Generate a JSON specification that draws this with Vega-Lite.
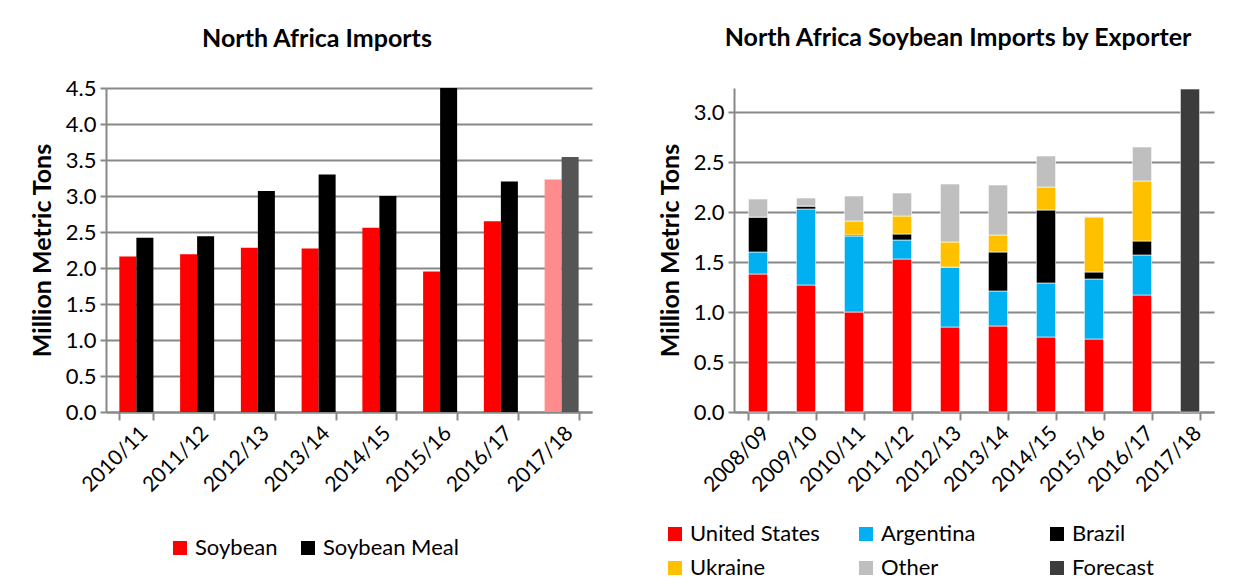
{
  "$schema": "https://vega.github.io/schema/vega-lite/v6.json",
  "background": "white",
  "padding": {"left": 30, "top": 26, "right": 10, "bottom": 5},
  "spacing": 66,
  "config": {
    "font": "Lato",
    "view": {"stroke": null},
    "title": {"font": "Lato", "fontSize": 25, "fontWeight": "bold", "color": "#000"},
    "axis": {
      "labelFont": "Lato", "labelColor": "#000", "titleFont": "Lato", "titleColor": "#000",
      "domainColor": "#888", "domainWidth": 2, "tickColor": "#888", "tickWidth": 2,
      "gridColor": "#888", "gridWidth": 2
    },
    "legend": {"labelFont": "Lato", "labelColor": "#000", "labelFontSize": 22, "symbolType": "square", "symbolSize": 196, "symbolStrokeWidth": 0}
  },
  "resolve": {"scale": {"color": "independent"}, "legend": {"color": "independent"}},
  "hconcat": [
    {
      "width": 486,
      "height": 324,
      "title": {"text": "North Africa Imports", "offset": 25, "dx": -32},
      "data": {"values": [
        {"year": "2010/11", "product": "Soybean", "value": 2.16},
        {"year": "2010/11", "product": "Soybean Meal", "value": 2.42},
        {"year": "2011/12", "product": "Soybean", "value": 2.19},
        {"year": "2011/12", "product": "Soybean Meal", "value": 2.44},
        {"year": "2012/13", "product": "Soybean", "value": 2.28},
        {"year": "2012/13", "product": "Soybean Meal", "value": 3.07},
        {"year": "2013/14", "product": "Soybean", "value": 2.27},
        {"year": "2013/14", "product": "Soybean Meal", "value": 3.30},
        {"year": "2014/15", "product": "Soybean", "value": 2.56},
        {"year": "2014/15", "product": "Soybean Meal", "value": 3.00},
        {"year": "2015/16", "product": "Soybean", "value": 1.95},
        {"year": "2015/16", "product": "Soybean Meal", "value": 4.50},
        {"year": "2016/17", "product": "Soybean", "value": 2.65},
        {"year": "2016/17", "product": "Soybean Meal", "value": 3.20},
        {"year": "2017/18", "product": "Soybean", "value": 3.23},
        {"year": "2017/18", "product": "Soybean Meal", "value": 3.54}
      ]},
      "mark": {"type": "bar"},
      "encoding": {
        "x": {
          "field": "year", "type": "nominal",
          "scale": {"paddingInner": 0.44, "paddingOuter": 0.22},
          "axis": {"title": null, "labelAngle": -45, "labelFontSize": 21, "tickBand": "extent", "tickSize": 8, "labelPadding": 2}
        },
        "xOffset": {"field": "product", "type": "nominal", "sort": ["Soybean", "Soybean Meal"], "scale": {"paddingInner": 0}},
        "y": {
          "field": "value", "type": "quantitative",
          "scale": {"domain": [0, 4.5], "nice": false},
          "axis": {"title": "Million Metric Tons", "titleFontSize": 25, "titleFontWeight": "bold", "titlePadding": 10,
                   "values": [0, 0.5, 1, 1.5, 2, 2.5, 3, 3.5, 4, 4.5], "format": ".1f", "labelFontSize": 22, "tickSize": 6, "labelPadding": 4}
        },
        "color": {
          "field": "product", "type": "nominal",
          "scale": {"domain": ["Soybean", "Soybean Meal"], "range": ["#ff0000", "#000000"]},
          "legend": {"title": null, "orient": "none", "direction": "horizontal", "legendX": 63, "legendY": 449, "columnPadding": 19},
          "condition": [
            {"test": "datum.year == '2017/18' && datum.product == 'Soybean'", "value": "#ff8c8c"},
            {"test": "datum.year == '2017/18' && datum.product == 'Soybean Meal'", "value": "#555555"}
          ]
        }
      }
    },
    {
      "width": 480,
      "height": 324,
      "title": {"text": "North Africa Soybean Imports by Exporter", "offset": 37, "dx": -16},
      "data": {"values": [
        {"year": "2008/09", "exporter": "United States", "value": 1.38},
        {"year": "2008/09", "exporter": "Argentina", "value": 0.22},
        {"year": "2008/09", "exporter": "Brazil", "value": 0.35},
        {"year": "2008/09", "exporter": "Ukraine", "value": 0},
        {"year": "2008/09", "exporter": "Other", "value": 0.18},
        {"year": "2009/10", "exporter": "United States", "value": 1.27},
        {"year": "2009/10", "exporter": "Argentina", "value": 0.76},
        {"year": "2009/10", "exporter": "Brazil", "value": 0.03},
        {"year": "2009/10", "exporter": "Ukraine", "value": 0},
        {"year": "2009/10", "exporter": "Other", "value": 0.08},
        {"year": "2010/11", "exporter": "United States", "value": 1.00},
        {"year": "2010/11", "exporter": "Argentina", "value": 0.76},
        {"year": "2010/11", "exporter": "Brazil", "value": 0.01},
        {"year": "2010/11", "exporter": "Ukraine", "value": 0.14},
        {"year": "2010/11", "exporter": "Other", "value": 0.25},
        {"year": "2011/12", "exporter": "United States", "value": 1.53},
        {"year": "2011/12", "exporter": "Argentina", "value": 0.19},
        {"year": "2011/12", "exporter": "Brazil", "value": 0.06},
        {"year": "2011/12", "exporter": "Ukraine", "value": 0.18},
        {"year": "2011/12", "exporter": "Other", "value": 0.23},
        {"year": "2012/13", "exporter": "United States", "value": 0.85},
        {"year": "2012/13", "exporter": "Argentina", "value": 0.60},
        {"year": "2012/13", "exporter": "Brazil", "value": 0},
        {"year": "2012/13", "exporter": "Ukraine", "value": 0.25},
        {"year": "2012/13", "exporter": "Other", "value": 0.58},
        {"year": "2013/14", "exporter": "United States", "value": 0.86},
        {"year": "2013/14", "exporter": "Argentina", "value": 0.35},
        {"year": "2013/14", "exporter": "Brazil", "value": 0.39},
        {"year": "2013/14", "exporter": "Ukraine", "value": 0.17},
        {"year": "2013/14", "exporter": "Other", "value": 0.50},
        {"year": "2014/15", "exporter": "United States", "value": 0.75},
        {"year": "2014/15", "exporter": "Argentina", "value": 0.54},
        {"year": "2014/15", "exporter": "Brazil", "value": 0.73},
        {"year": "2014/15", "exporter": "Ukraine", "value": 0.23},
        {"year": "2014/15", "exporter": "Other", "value": 0.31},
        {"year": "2015/16", "exporter": "United States", "value": 0.73},
        {"year": "2015/16", "exporter": "Argentina", "value": 0.60},
        {"year": "2015/16", "exporter": "Brazil", "value": 0.07},
        {"year": "2015/16", "exporter": "Ukraine", "value": 0.55},
        {"year": "2015/16", "exporter": "Other", "value": 0.005},
        {"year": "2016/17", "exporter": "United States", "value": 1.17},
        {"year": "2016/17", "exporter": "Argentina", "value": 0.40},
        {"year": "2016/17", "exporter": "Brazil", "value": 0.14},
        {"year": "2016/17", "exporter": "Ukraine", "value": 0.60},
        {"year": "2016/17", "exporter": "Other", "value": 0.34},
        {"year": "2017/18", "exporter": "Forecast", "value": 3.23}
      ]},
      "transform": [
        {"calculate": "indexof(['United States', 'Argentina', 'Brazil', 'Ukraine', 'Other', 'Forecast'], datum.exporter)", "as": "stackOrder"}
      ],
      "mark": {"type": "bar", "stroke": "white", "strokeWidth": 0.6},
      "encoding": {
        "x": {
          "field": "year", "type": "nominal",
          "scale": {"paddingInner": 0.6, "paddingOuter": 0.3},
          "axis": {"title": null, "labelAngle": -45, "labelFontSize": 21, "tickBand": "extent", "tickSize": 8, "labelPadding": 2}
        },
        "y": {
          "field": "value", "type": "quantitative", "stack": "zero",
          "scale": {"domain": [0, 3.24], "nice": false},
          "axis": {"title": "Million Metric Tons", "titleFontSize": 25, "titleFontWeight": "bold", "titlePadding": 10,
                   "values": [0, 0.5, 1, 1.5, 2, 2.5, 3], "format": ".1f", "labelFontSize": 22, "tickSize": 6, "labelPadding": 4}
        },
        "order": {"field": "stackOrder", "type": "quantitative", "sort": "ascending"},
        "color": {
          "field": "exporter", "type": "nominal",
          "sort": ["United States", "Argentina", "Brazil", "Ukraine", "Other", "Forecast"],
          "scale": {"domain": ["United States", "Argentina", "Brazil", "Ukraine", "Other", "Forecast"],
                    "range": ["#ff0000", "#00b0f0", "#000000", "#ffc000", "#bfbfbf", "#3c3c3c"]},
          "legend": {"title": null, "orient": "none", "direction": "horizontal", "columns": 3, "gridAlign": "all",
                     "legendX": -70, "legendY": 435, "columnPadding": 35, "rowPadding": 12}
        }
      }
    }
  ]
}
